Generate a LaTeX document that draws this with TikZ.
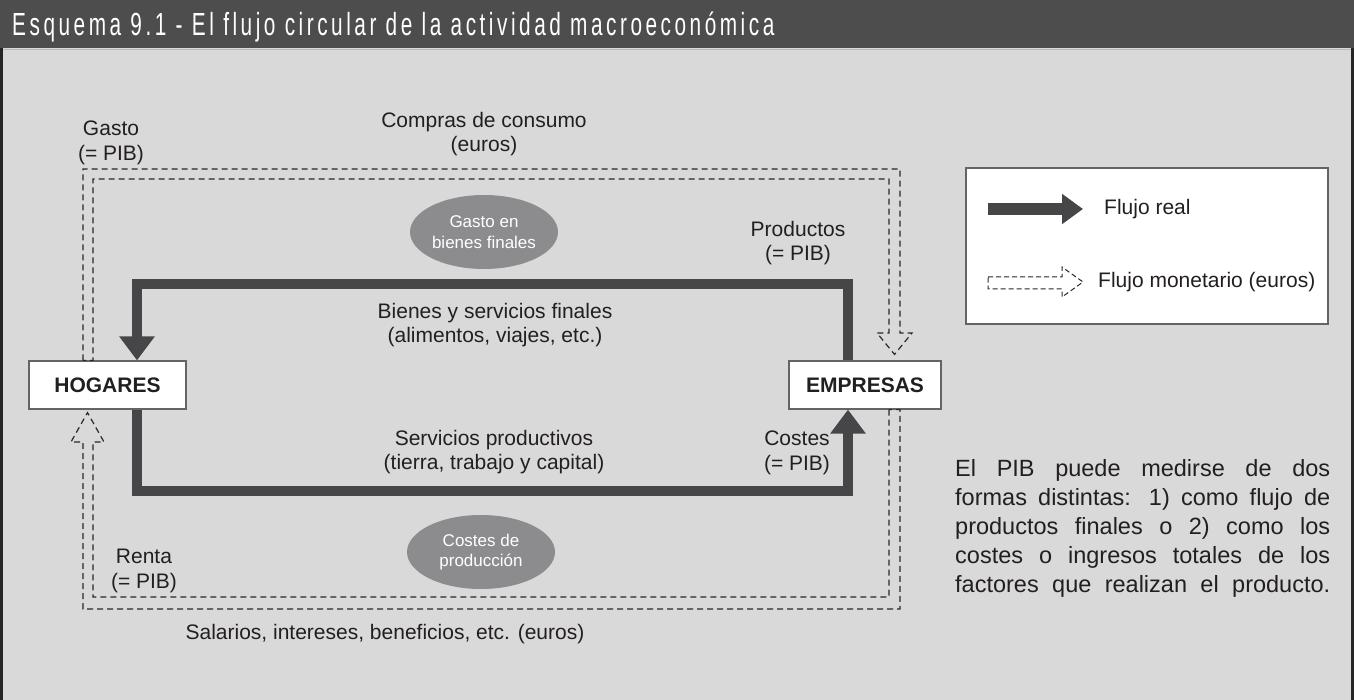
\documentclass[tikz,border=0pt]{standalone}
\usepackage{fontspec}
\setmainfont{Liberation Sans}
\newfontfamily\titlefont[FakeStretch=0.65,LetterSpace=11]{Liberation Sans}
\usetikzlibrary{arrows.meta,shapes.geometric}

\newcommand{\jline}[1]{\makebox[375pt][s]{#1}}

\begin{document}
\begin{tikzpicture}[x=1pt,y=-1pt,line join=miter,
  lab/.style={font=\fontsize{21}{24.5}\selectfont,text=ink,align=center,inner sep=0pt},
  agent/.style={draw=boxline,line width=1.2pt,fill=white,minimum width=#1,minimum height=48pt,
    inner sep=0pt,font=\fontsize{21}{24}\selectfont\bfseries,text=ink},
  blob/.style={ellipse,fill=blobc,minimum width=148pt,minimum height=74pt,inner sep=0pt,
    text=white,align=center,font=\fontsize{17}{20.5}\selectfont},
  realflow/.style={line width=10.5pt,draw=flowc,-{Triangle[length=24pt,width=34pt]}},
  money/.style={draw=dashc,line width=1.2pt,dash pattern=on 6pt off 4pt}]

  \definecolor{bodyc}{RGB}{217,217,217}
  \definecolor{titlec}{RGB}{77,77,77}
  \definecolor{flowc}{RGB}{70,70,72}
  \definecolor{blobc}{RGB}{140,140,142}
  \definecolor{ink}{RGB}{35,31,32}
  \definecolor{boxline}{RGB}{100,100,100}
  \definecolor{dashc}{RGB}{40,40,40}

  \useasboundingbox (0,0) rectangle (1354,700);

  % ---- frame and title bar ----
  \fill[bodyc] (0,48) rectangle (1354,700);
  \fill[titlec] (0,0) rectangle (1354,48);
  \draw[gray!55,line width=1.5pt] (3,49.5) -- (1351,49.5);
  \draw[black!85,line width=3pt] (1.5,48) -- (1.5,700) (1352.5,48) -- (1352.5,700);
  \node[anchor=base west,text=white,inner sep=0pt,font=\titlefont\fontsize{32}{34}\selectfont]
    (title) at (12,36) {Esquema 9.1 - El flujo circular de la actividad macroeconómica};

  % ---- agents ----
  \node[agent=157pt] (hogares) at (107.5,385) {HOGARES};
  \node[agent=152pt] (empresas) at (865,385) {EMPRESAS};

  % ---- real flows ----
  \coordinate (rtr) at (848,284);
  \coordinate (rtl) at (137,284);
  \draw[realflow] (empresas.north -| rtr) -- (rtr) -- (rtl) -- (hogares.north -| rtl);
  \coordinate (rbl) at (137,491);
  \coordinate (rbr) at (848,491);
  \draw[realflow] (hogares.south -| rbl) -- (rbl) -- (rbr) -- (empresas.south -| rbr);

  % ---- money flows (hollow dashed arrows) ----
  \draw[money] ([xshift=-24.5pt]hogares.north) |- (900,169) -- (900,333) -- (912,333)
    -- ([xshift=29.5pt,yshift=6pt]empresas.north) -- (877,333) -- (889,333) |- (93,179)
    -- ([xshift=-14.5pt]hogares.north) -- cycle;
  \draw[money] ([xshift=24pt]empresas.south) |- (93,597) -- (93,442) -- (104,442)
    -- ([xshift=-20pt,yshift=-3pt]hogares.south) -- (71,442) -- (83,442) |- (900,609)
    -- ([xshift=35pt]empresas.south) -- cycle;

  % ---- labels ----
  \node[lab] (gasto) at (111,143) {Gasto\\(= PIB)};
  \node[lab] (compras) at (484,134) {Compras de consumo\\(euros)};
  \node[blob] (gastobl) at (484,232) {Gasto en\\bienes finales};
  \node[lab] (productos) at (798,243) {Productos\\(= PIB)};
  \node[lab] (bienes) at (495,325) {Bienes y servicios finales\\(alimentos, viajes, etc.)};
  \node[lab] (servicios) at (494,452) {Servicios productivos\\(tierra, trabajo y capital)};
  \node[lab] (costes) at (797,453) {Costes\\(= PIB)};
  \node[blob] (costesbl) at (481,552) {Costes de\\producción};
  \node[lab] (renta) at (144,571) {Renta\\(= PIB)};
  \node[lab] (salarios) at (385,634) {Salarios, intereses, beneficios, etc. (euros)};

  % ---- legend ----
  \node[draw=boxline,fill=white,line width=1.2pt,minimum width=362pt,minimum height=156pt,
    inner sep=0pt] (legend) at (1147,246) {};
  \coordinate (lr1) at (988,209);
  \coordinate (lr2) at (1083,209);
  \draw[realflow,line width=12pt,-{Triangle[length=21pt,width=29pt]}] (lr1) -- (lr2);
  \node[lab,anchor=west] (lreal) at (1104,209) {Flujo real};
  \draw[money,line width=1pt,dash pattern=on 5pt off 3pt]
    (988,277) -- (1062,277) -- (1062,267) -- (1083,282) -- (1062,297) -- (1062,289)
    -- (988,289) -- cycle;
  \node[lab,anchor=west] (lmoney) at (1098,282) {Flujo monetario (euros)};

  % ---- note on the right ----
  \node[lab,anchor=north west,align=left,font=\fontsize{23.5}{29}\selectfont] (nota) at (955,459)
    {\jline{El PIB puede medirse de dos}\\
     \jline{formas distintas: 1) como flujo de}\\
     \jline{productos finales o 2) como los}\\
     \jline{costes o ingresos totales de los}\\
     \jline{factores que realizan el producto.}};
\end{tikzpicture}
\end{document}
